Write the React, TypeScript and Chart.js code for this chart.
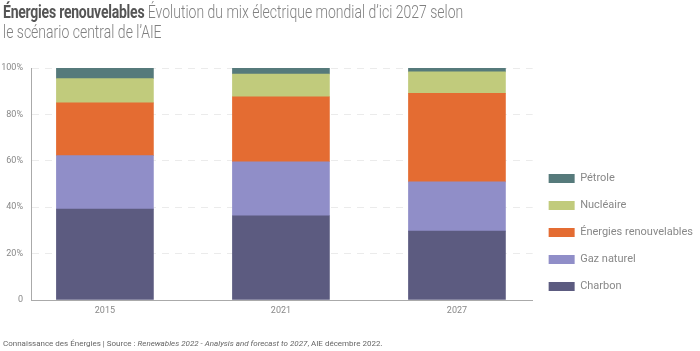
import React, { useEffect, useRef } from "react";
import { Chart, registerables } from "chart.js";

Chart.register(...registerables);

const years = ["2015", "2021", "2027"];
const charbon = [39.2, 36.3, 29.7];
const gaz = [23.0, 23.3, 21.2];
const renouvelables = [22.8, 28.0, 38.2];
const nucleaire = [10.4, 9.8, 9.2];
const petrole = [4.6, 2.6, 1.7];
const yTicks = [0, 20, 40, 60, 80, 100];

const seriesNames = ["Charbon", "Gaz naturel", "Énergies renouvelables", "Nucléaire", "Pétrole"];
const seriesColors = ["#5c5b80", "#908ec8", "#e46c32", "#c1cb7c", "#567a7b"];
const seriesValues = [charbon, gaz, renouvelables, nucleaire, petrole];

export default function App() {
  const ref = useRef<HTMLCanvasElement | null>(null);
  useEffect(() => {
    document.body.style.margin = "0";
    const ctx = ref.current!.getContext("2d")!;
    const chart = new Chart(ctx, {
      type: "bar",
      data: {
        datasets: seriesNames.map((name, s) => ({
          label: name,
          data: years.map((_, i) => ({ x: i, y: seriesValues[s][i] })),
          backgroundColor: seriesColors[s],
          borderWidth: 0,
          barThickness: 97,
        })),
      },
      options: {
        animation: false,
        responsive: false,
        maintainAspectRatio: false,
        layout: { padding: { top: 68, bottom: 35, left: 0, right: -3 } },
        plugins: {
          tooltip: { enabled: false },
          title: { display: false },
          legend: {
            display: true,
            position: "right",
            align: "start",
            reverse: true,
            title: {
              display: true,
              text: "",
              font: { family: "Roboto", size: 10 },
              padding: { top: 77, bottom: 0 },
            },
            labels: {
              boxWidth: 26,
              boxHeight: 9,
              padding: 16,
              color: "#888",
              font: { family: "Roboto", size: 11 },
            },
          },
        },
        scales: {
          x: {
            type: "linear",
            stacked: true,
            offset: false,
            min: -0.42,
            max: 2.43,
            afterBuildTicks: (axis: any) => {
              axis.ticks = years.map((_, i) => ({ value: i }));
            },
            afterFit: (scale: any) => {
              scale.height = 16;
            },
            grid: { display: false, drawTicks: false, offset: false },
            border: { display: true, color: "#aaa", width: 1 },
            ticks: {
              padding: 5,
              color: "#888",
              font: { family: "Roboto", size: 9 },
              callback: (v: any) => years[v as number] ?? "",
            },
          },
          y: {
            stacked: true,
            min: 0,
            max: 100,
            afterBuildTicks: (axis: any) => {
              axis.ticks = yTicks.map((v) => ({ value: v }));
            },
            afterFit: (scale: any) => {
              scale.width = 31;
            },
            grid: { color: "#ebebeb", drawTicks: false, lineWidth: 1 },
            border: { display: true, color: "#aaa", width: 1, dash: [7, 6] },
            ticks: {
              padding: 8,
              color: "#888",
              font: { family: "Roboto", size: 9 },
              callback: (v: any) => (v === 0 ? "0" : v + "%"),
            },
          },
        },
      },
    });
    return () => chart.destroy();
  }, []);

  return (
    <div style={{ position: "fixed", left: 0, top: 0, width: 700, height: 351, overflow: "hidden", background: "#fff" }}>
      <canvas ref={ref} width={700} height={351} style={{ position: "absolute", left: 0, top: 0, width: 700, height: 351 }} />
      <div
        style={{
          position: "absolute",
          left: 3,
          top: 2,
          whiteSpace: "nowrap",
          fontFamily: "Roboto",
          fontSize: 18,
          fontWeight: 300,
          lineHeight: "20px",
          color: "#808080",
          transform: "scaleX(0.778)",
          transformOrigin: "0 0",
        }}
      >
        <span style={{ fontWeight: 700, color: "#555", letterSpacing: "-0.3px" }}>Énergies renouvelables</span> Évolution du mix électrique mondial d’ici 2027 selon
        <br />
        le scénario central de l’AIE
      </div>
      <div
        style={{
          position: "absolute",
          left: 3,
          top: 339,
          fontFamily: "Roboto",
          fontSize: 8,
          lineHeight: "10px",
          color: "#666",
          whiteSpace: "nowrap",
        }}
      >
        Connaissance des Énergies | Source : <i>Renewables 2022 - Analysis and forecast to 2027</i>, AIE décembre 2022.
      </div>
    </div>
  );
}
